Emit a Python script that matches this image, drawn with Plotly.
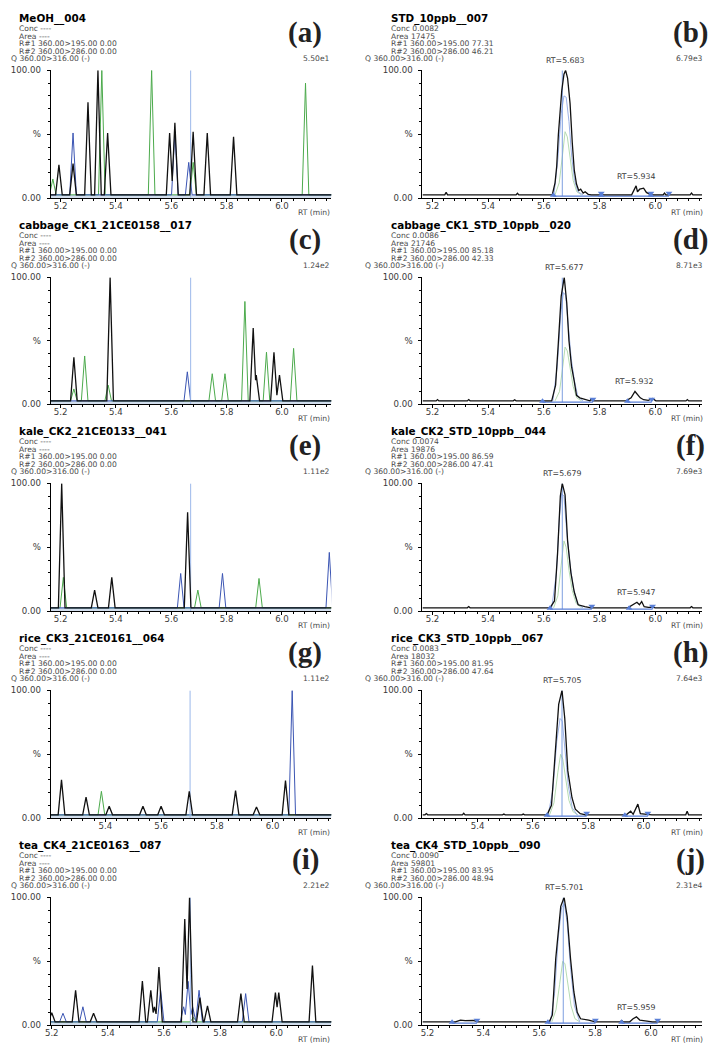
import plotly.graph_objects as go

W, H = 714, 1048
FONT = "DejaVu Sans"

# ---------------- header texts ----------------
titles = ["MeOH__004", "STD_10ppb__007",
          "cabbage_CK1_21CE0158__017", "cabbage_CK1_STD_10ppb__020",
          "kale_CK2_21CE0133__041", "kale_CK2_STD_10ppb__044",
          "rice_CK3_21CE0161__064", "rice_CK3_STD_10ppb__067",
          "tea_CK4_21CE0163__087", "tea_CK4_STD_10ppb__090"]
concs = ["Conc ----", "Conc 0.0082", "Conc ----", "Conc 0.0086", "Conc ----",
         "Conc 0.0074", "Conc ----", "Conc 0.0083", "Conc ----", "Conc 0.0090"]
areas = ["Area ----", "Area 17475", "Area ----", "Area 21746", "Area ----",
         "Area 19876", "Area ----", "Area 18032", "Area ----", "Area 59801"]
r1_vals = ["0.00", "77.31", "0.00", "85.18", "0.00", "86.59", "0.00", "81.95", "0.00", "83.95"]
r2_vals = ["0.00", "46.21", "0.00", "42.33", "0.00", "47.41", "0.00", "47.64", "0.00", "48.94"]
q_text = "Q 360.00>316.00 (-)"
scales = ["5.50e1", "6.79e3", "1.24e2", "8.71e3", "1.11e2", "7.69e3", "1.11e2", "7.64e3", "2.21e2", "2.31e4"]
letters = ["(a)", "(b)", "(c)", "(d)", "(e)", "(f)", "(g)", "(h)", "(i)", "(j)"]

x_tick_vals = [5.2, 5.4, 5.6, 5.8, 6.0]
x_tick_text = ["5.2", "5.4", "5.6", "5.8", "6.0"]
y_tick_vals = [0, 50, 100]
y_tick_text = ["0.00", "%", "100.00"]

x_ranges = [[5.164, 6.178], [5.164, 6.168],
            [5.164, 6.178], [5.164, 6.168],
            [5.164, 6.178], [5.164, 6.168],
            [5.204, 6.210], [5.201, 6.211],
            [5.196, 6.196], [5.182, 6.183]]

BASE = 2.6

# ---------------- sample panels (peak lists) ----------------
a_black_rt = [5.194, 5.245, 5.299, 5.335, 5.370, 5.594, 5.613, 5.679, 5.730, 5.825]
a_black_h = [26, 27, 75, 100, 51, 51, 59, 52, 51, 48]
a_blue_rt = [5.245, 5.613, 5.663]
a_blue_h = [51, 52, 28]
a_green_rt = [5.172, 5.349, 5.529, 5.679, 6.085]
a_green_h = [15, 100, 100, 28, 90]
a_expected = 5.670

c_black_rt = [5.248, 5.379, 5.896, 5.907, 5.971, 5.991]
c_black_h = [37, 100, 60, 23, 41, 23]
c_blue_rt = [5.658]
c_blue_h = [25.5]
c_green_rt = [5.248, 5.287, 5.372, 5.748, 5.794, 5.866, 5.944, 6.042]
c_green_h = [12, 38, 15, 24, 24, 81, 41, 44]
c_expected = 5.670

e_black_rt = [5.204, 5.323, 5.385, 5.659]
e_black_h = [100, 16.5, 26.4, 77.3]
e_blue_rt = [5.634, 5.785, 6.171]
e_blue_h = [29.5, 29.5, 46]
e_green_rt = [5.210, 5.696, 5.917]
e_green_h = [26.4, 16.5, 25.6]
e_expected = 5.670

g_black_rt = [5.243, 5.331, 5.414, 5.535, 5.600, 5.701, 5.867, 5.942, 6.046]
g_black_h = [30, 16.5, 9.3, 9.3, 9.3, 21, 21.6, 8.8, 29.4]
g_blue_rt = [6.070]
g_blue_h = [100]
g_green_rt = [5.386]
g_green_h = [21]
g_expected = 5.704

i_black_rt = [5.200, 5.285, 5.349, 5.523, 5.553, 5.566, 5.582, 5.674, 5.691,
              5.728, 5.755, 5.874, 5.997, 6.009, 6.129]
i_black_h = [9.8, 27.3, 9.3, 34.5, 27.3, 14.4, 45.4, 83, 100, 21.6, 15, 24.7, 25.5, 25.5, 46.6]
i_blue_rt = [5.240, 5.311, 5.588, 5.670, 5.686, 5.702, 5.725, 5.891]
i_blue_h = [9.3, 14.4, 27.3, 14.4, 34.3, 14.4, 27.3, 24.7]
i_green_rt = [5.705]
i_green_h = [6]
i_expected = 5.694

# ---------------- standard panels (traces) ----------------
b_black_rt = [5.164, 5.244, 5.249, 5.254, 5.500, 5.505, 5.510, 5.630, 5.640, 5.646, 5.652,
              5.664, 5.672, 5.678, 5.685, 5.694, 5.702, 5.709, 5.717, 5.725, 5.732, 5.741,
              5.748, 5.759, 5.770, 5.915, 5.931, 5.936, 5.944, 5.958, 5.968, 5.984, 6.028,
              6.033, 6.038, 6.125, 6.130, 6.135, 6.168]
b_black_y = [2.6, 2.6, 4.5, 2.6, 2.6, 3.8, 2.6, 2.6, 12, 25, 50, 84, 97, 100, 94, 74, 43,
             22, 11, 6, 7, 4, 5, 3, 2.6, 2.6, 9.6, 5, 7, 7.8, 4.5, 2.6, 2.6, 4, 2.6, 2.6,
             4, 2.6, 2.6]
b_blue_rt = [5.636, 5.650, 5.662, 5.672, 5.680, 5.690, 5.700, 5.710, 5.722, 5.740]
b_blue_y = [2.6, 30, 66, 80, 79, 60, 32, 14, 5, 2.6]
b_green_rt = [5.640, 5.655, 5.668, 5.676, 5.684, 5.694, 5.705, 5.718, 5.735]
b_green_y = [2.6, 12, 36, 52, 48, 30, 14, 5, 2.6]
b_expected = 5.666
b_label_rt = [5.678, 5.931]
b_label_y = [100, 9.6]
b_label_text = ["RT=5.683", "RT=5.934"]
b_start = [5.634, 5.806, 5.984]
b_end = [5.806, 5.984, 6.049]

d_black_rt = [5.164, 5.213, 5.218, 5.223, 5.325, 5.330, 5.335, 5.490, 5.495, 5.500, 5.628,
              5.642, 5.652, 5.662, 5.673, 5.682, 5.690, 5.699, 5.709, 5.717, 5.729, 5.747,
              5.765, 5.770, 5.775, 5.895, 5.913, 5.927, 5.937, 5.946, 5.958, 5.975, 5.990,
              6.002, 6.110, 6.115, 6.120, 6.168]
d_black_y = [2.6, 2.6, 3.6, 2.6, 2.6, 3.6, 2.6, 2.6, 3.4, 2.6, 2.6, 15, 49, 85, 100, 80, 50,
             30, 18, 7, 5, 3.5, 2.6, 4, 2.6, 2.6, 5, 10, 7, 5, 3.5, 3, 4.5, 2.6, 2.6, 3.6,
             2.6, 2.6]
d_blue_rt = [5.632, 5.648, 5.660, 5.670, 5.678, 5.688, 5.698, 5.710, 5.722, 5.740]
d_blue_y = [2.6, 30, 70, 88, 86, 62, 36, 18, 6, 2.6]
d_green_rt = [5.640, 5.656, 5.668, 5.676, 5.684, 5.694, 5.705, 5.718, 5.735]
d_green_y = [2.6, 10, 30, 45, 42, 28, 14, 5, 2.6]
d_expected = 5.666
d_label_rt = [5.673, 5.927]
d_label_y = [100, 10]
d_label_text = ["RT=5.677", "RT=5.932"]
d_start = [5.595, 5.900]
d_end = [5.776, 5.987]

f_black_rt = [5.164, 5.325, 5.330, 5.335, 5.622, 5.638, 5.649, 5.659, 5.666, 5.676, 5.685,
              5.697, 5.709, 5.723, 5.747, 5.770, 5.901, 5.922, 5.934, 5.943, 5.951, 5.960,
              5.975, 5.990, 6.000, 6.125, 6.130, 6.135, 6.168]
f_black_y = [2.6, 2.6, 3.6, 2.6, 2.6, 8, 45, 90, 100, 91, 55, 30, 15, 5, 3.5, 2.6, 2.6, 5,
             7, 5, 7.5, 3.5, 3, 3.2, 2.6, 2.6, 3.6, 2.6, 2.6]
f_blue_rt = [5.628, 5.645, 5.656, 5.664, 5.672, 5.682, 5.694, 5.706, 5.720, 5.740]
f_blue_y = [2.6, 30, 75, 92, 90, 62, 36, 18, 6, 2.6]
f_green_rt = [5.635, 5.650, 5.662, 5.672, 5.680, 5.690, 5.702, 5.716, 5.735]
f_green_y = [2.6, 12, 36, 55, 50, 32, 16, 6, 2.6]
f_expected = 5.666
f_label_rt = [5.666, 5.934]
f_label_y = [100, 7]
f_label_text = ["RT=5.679", "RT=5.947"]
f_start = [5.622, 5.906]
f_end = [5.772, 5.990]

h_black_rt = [5.201, 5.210, 5.215, 5.220, 5.345, 5.350, 5.355, 5.490, 5.495, 5.500, 5.560,
              5.565, 5.570, 5.651, 5.667, 5.681, 5.693, 5.705, 5.715, 5.726, 5.741, 5.753,
              5.771, 5.790, 5.937, 5.953, 5.962, 5.979, 5.988, 6.012, 6.030, 6.152, 6.157,
              6.162, 6.211]
h_black_y = [2.6, 2.6, 3.6, 2.6, 2.6, 3.8, 2.6, 2.6, 3.2, 2.6, 2.6, 3.2, 2.6, 2.6, 10, 53,
             89, 100, 78, 37, 16, 7, 3.5, 2.6, 2.6, 5.5, 3, 11, 3.5, 3, 2.6, 2.6, 5.5, 2.6,
             2.6]
h_blue_rt = [5.655, 5.672, 5.686, 5.698, 5.706, 5.716, 5.728, 5.742, 5.760]
h_blue_y = [2.6, 22, 60, 78, 76, 55, 25, 8, 2.6]
h_green_rt = [5.660, 5.676, 5.690, 5.700, 5.708, 5.718, 5.730, 5.745, 5.762]
h_green_y = [2.6, 12, 36, 50, 46, 30, 14, 5, 2.6]
h_expected = 5.705
h_label_rt = [5.705]
h_label_y = [100]
h_label_text = ["RT=5.705"]
h_start = [5.651, 5.932]
h_end = [5.794, 6.015]

j_black_rt = [5.182, 5.300, 5.318, 5.335, 5.364, 5.380, 5.636, 5.647, 5.659, 5.677, 5.689,
              5.700, 5.712, 5.724, 5.736, 5.748, 5.777, 5.800, 5.890, 5.895, 5.900, 5.924,
              5.936, 5.948, 5.960, 5.975, 5.989, 6.005, 6.183]
j_black_y = [2.6, 2.6, 4, 3.5, 3.8, 2.6, 2.6, 8, 52, 93, 100, 85, 52, 26, 10, 5, 4, 2.6,
             2.6, 3.6, 2.6, 2.6, 5, 6.5, 4, 3.5, 3, 2.6, 2.6]
j_blue_rt = [5.640, 5.655, 5.668, 5.680, 5.690, 5.700, 5.712, 5.726, 5.745]
j_blue_y = [2.6, 25, 68, 92, 95, 80, 45, 15, 2.6]
j_green_rt = [5.645, 5.660, 5.673, 5.684, 5.692, 5.702, 5.714, 5.728, 5.745]
j_green_y = [2.6, 12, 32, 50, 48, 32, 15, 5, 2.6]
j_expected = 5.686
j_label_rt = [5.689, 5.948]
j_label_y = [100, 6.5]
j_label_text = ["RT=5.701", "RT=5.959"]
j_start = [5.288, 5.631, 5.895]
j_end = [5.377, 5.801, 6.024]

samples = {
    0: (a_black_rt, a_black_h, a_blue_rt, a_blue_h, a_green_rt, a_green_h, a_expected),
    2: (c_black_rt, c_black_h, c_blue_rt, c_blue_h, c_green_rt, c_green_h, c_expected),
    4: (e_black_rt, e_black_h, e_blue_rt, e_blue_h, e_green_rt, e_green_h, e_expected),
    6: (g_black_rt, g_black_h, g_blue_rt, g_blue_h, g_green_rt, g_green_h, g_expected),
    8: (i_black_rt, i_black_h, i_blue_rt, i_blue_h, i_green_rt, i_green_h, i_expected),
}
standards = {
    1: (b_black_rt, b_black_y, b_blue_rt, b_blue_y, b_green_rt, b_green_y, b_expected,
        b_label_rt, b_label_y, b_label_text, b_start, b_end),
    3: (d_black_rt, d_black_y, d_blue_rt, d_blue_y, d_green_rt, d_green_y, d_expected,
        d_label_rt, d_label_y, d_label_text, d_start, d_end),
    5: (f_black_rt, f_black_y, f_blue_rt, f_blue_y, f_green_rt, f_green_y, f_expected,
        f_label_rt, f_label_y, f_label_text, f_start, f_end),
    7: (h_black_rt, h_black_y, h_blue_rt, h_blue_y, h_green_rt, h_green_y, h_expected,
        h_label_rt, h_label_y, h_label_text, h_start, h_end),
    9: (j_black_rt, j_black_y, j_blue_rt, j_blue_y, j_green_rt, j_green_y, j_expected,
        j_label_rt, j_label_y, j_label_text, j_start, j_end),
}

# ---------------- layout geometry (pixels) ----------------
row_top = [66, 275, 483, 692, 901]
row_bot = [195, 403, 612, 821, 1030]
col_x = [(45, 328), (420, 702)]

BLACK = "#111111"
BLUE = "#3b55b3"
GREEN = "#4caa4c"
EXPECT = "#9cb8ea"
STD_BLUE = "#9cb1e6"
STD_GREEN = "#b5dbb2"
INT_BLUE = "#5a7fd6"


def peaks_xy(rts, hs, x0, x1, base=BASE, w=0.012):
    xs, ys = [x0], [base]
    prev = None
    for r, h in sorted(zip(rts, hs)):
        if prev is not None and r - w < prev[0] + w:
            pr, ph = prev
            xs.pop(); ys.pop()
            a, b = ph - base, h - base
            xi = (a * (pr + w) + b * (r - w)) / (a + b)
            yi = base + b * (xi - (r - w)) / w
            xs.append(xi); ys.append(yi)
        else:
            xs.append(r - w); ys.append(base)
        xs.append(r); ys.append(h)
        xs.append(r + w); ys.append(base)
        prev = (r, h)
    xs.append(x1); ys.append(base)
    return xs, ys


def px(x):
    return x / W


def py(y):
    return 1 - y / H


fig = go.Figure()
layout = {}
annotations = []

for k in range(10):
    row, col = k // 2, k % 2
    n = k + 1
    xs_name = "x" if n == 1 else f"x{n}"
    ys_name = "y" if n == 1 else f"y{n}"
    xa_name = "xaxis" if n == 1 else f"xaxis{n}"
    ya_name = "yaxis" if n == 1 else f"yaxis{n}"
    x0p, x1p = col_x[col]
    top, bot = row_top[row], row_bot[row]
    xr = x_ranges[k]

    layout[xa_name] = dict(
        domain=[px(x0p), px(x1p)], range=xr, anchor=ys_name,
        showline=True, linecolor="black", linewidth=1, mirror=False,
        ticks="outside", ticklen=3, tickcolor="black", tickwidth=1,
        tickvals=x_tick_vals, ticktext=x_tick_text, ticklabelstandoff=-3,
        tickfont=dict(family=FONT, size=8.6, color="#3a3a3a"),
        showgrid=False, zeroline=False,
        minor=dict(ticks="outside", ticklen=2, dtick=0.04, tick0=5.2, tickcolor="black"),
    )
    layout[ya_name] = dict(
        domain=[py(bot), py(top)], range=[0, 100], anchor=xs_name,
        showline=True, linecolor="black", linewidth=1,
        ticks="outside", ticklen=3, tickcolor="black", tickwidth=1,
        tickvals=y_tick_vals, ticktext=y_tick_text, ticklabelstandoff=4,
        tickfont=dict(family=FONT, size=8.6, color="#3a3a3a"),
        showgrid=False, zeroline=False,
        minor=dict(ticks="outside", ticklen=2, dtick=10, tickcolor="black"),
    )

    if k in samples:
        brt, bh, blrt, blh, grt, gh, expct = samples[k]
        fig.add_trace(go.Scatter(x=[xr[0], xr[1]], y=[BASE - 0.6, BASE - 0.6], mode="lines",
                                 fill="tozeroy", fillcolor="#d3dfee", line=dict(color="#b9cbe3", width=1),
                                 xaxis=xs_name, yaxis=ys_name, hoverinfo="skip"))
        gx, gy = peaks_xy(grt, gh, xr[0] - 0.1, xr[1] + 0.1)
        fig.add_trace(go.Scatter(x=gx, y=gy, mode="lines", line=dict(color=GREEN, width=1),
                                 xaxis=xs_name, yaxis=ys_name))
        bx, by = peaks_xy(blrt, blh, xr[0] - 0.1, xr[1] + 0.1)
        fig.add_trace(go.Scatter(x=bx, y=by, mode="lines", line=dict(color=BLUE, width=1),
                                 xaxis=xs_name, yaxis=ys_name))
        fig.add_trace(go.Scatter(x=[expct, expct], y=[0, 100], mode="lines",
                                 line=dict(color=EXPECT, width=1),
                                 xaxis=xs_name, yaxis=ys_name))
        kx, ky = peaks_xy(brt, bh, xr[0] - 0.1, xr[1] + 0.1)
        fig.add_trace(go.Scatter(x=kx, y=ky, mode="lines", line=dict(color=BLACK, width=1.3),
                                 xaxis=xs_name, yaxis=ys_name))
    else:
        (brt, by_, blrt, bly, grt, gy_, expct, lrt, ly, ltxt, starts, ends) = standards[k]
        fig.add_trace(go.Scatter(x=grt, y=gy_, mode="lines", line=dict(color=STD_GREEN, width=1),
                                 xaxis=xs_name, yaxis=ys_name))
        fig.add_trace(go.Scatter(x=blrt, y=bly, mode="lines", line=dict(color=STD_BLUE, width=1),
                                 xaxis=xs_name, yaxis=ys_name))
        fig.add_trace(go.Scatter(x=[expct, expct], y=[1.5, 100], mode="lines",
                                 line=dict(color="#7d9fe0", width=1),
                                 xaxis=xs_name, yaxis=ys_name))
        for s, e in zip(starts, ends):
            fig.add_trace(go.Scatter(x=[s, e], y=[1.6, 1.6], mode="lines",
                                     line=dict(color=INT_BLUE, width=1.3),
                                     xaxis=xs_name, yaxis=ys_name))
        fig.add_trace(go.Scatter(x=brt, y=by_, mode="lines", line=dict(color=BLACK, width=1.3),
                                 xaxis=xs_name, yaxis=ys_name))
        fig.add_trace(go.Scatter(x=starts, y=[2.2] * len(starts), mode="markers",
                                 marker=dict(symbol="triangle-up", size=6, color=INT_BLUE),
                                 xaxis=xs_name, yaxis=ys_name, cliponaxis=False))
        fig.add_trace(go.Scatter(x=ends, y=[3.8] * len(ends), mode="markers",
                                 marker=dict(symbol="triangle-down", size=6, color=INT_BLUE),
                                 xaxis=xs_name, yaxis=ys_name, cliponaxis=False))
        fig.add_trace(go.Scatter(x=[lrt[0]], y=[101], mode="markers",
                                 marker=dict(symbol="triangle-down", size=7, color="#1d2f6e"),
                                 xaxis=xs_name, yaxis=ys_name, cliponaxis=False))
        for xv, yv, tv in zip(lrt, ly, ltxt):
            annotations.append(dict(x=xv, y=yv, xref=xs_name, yref=ys_name, text=tv,
                                    showarrow=False, xanchor="center", yanchor="bottom",
                                    yshift=3, font=dict(family=FONT, size=7.8, color="#3a3a3a")))

    # header texts
    tx = 12 if col == 0 else 387
    qx = 4 if col == 0 else 361
    sx = 328 if col == 0 else 704
    lx = 302 if col == 0 else 690
    small = dict(family=FONT, size=7.6, color="#4a4a4a")
    head = [
        (titles[k], tx, top - 52, dict(family=FONT, size=10.4, color="black"), "left", True),
        (concs[k], tx, top - 42, small, "left", False),
        (areas[k], tx, top - 34.5, small, "left", False),
        (f"R#1 360.00>195.00 {r1_vals[k]}", tx, top - 27, small, "left", False),
        (f"R#2 360.00>286.00 {r2_vals[k]}", tx, top - 19.5, small, "left", False),
        (q_text, qx, top - 12, small, "left", False),
        (scales[k], sx, top - 12, small, "right", False),
        ("RT (min)", sx, bot + 14, small, "right", False),
    ]
    for txt, xx, yy, fnt, anc, bold in head:
        annotations.append(dict(x=px(xx), y=py(yy), xref="paper", yref="paper",
                                text=f"<b>{txt}</b>" if bold else txt, showarrow=False,
                                xanchor=anc, yanchor="middle", font=fnt, borderpad=0))
    annotations.append(dict(x=px(lx), y=py(top - 38), xref="paper", yref="paper",
                            text=f"<b>{letters[k]}</b>", showarrow=False,
                            xanchor="center", yanchor="middle", borderpad=0,
                            font=dict(family="Liberation Serif", size=29, color="#222222")))

fig.update_layout(
    width=W, height=H, margin=dict(l=0, r=0, t=0, b=0),
    paper_bgcolor="white", plot_bgcolor="white", showlegend=False,
    annotations=annotations, **layout,
)

fig.write_html("out.html", config={"displayModeBar": False},
               post_script="document.body.style.margin='0px';")
